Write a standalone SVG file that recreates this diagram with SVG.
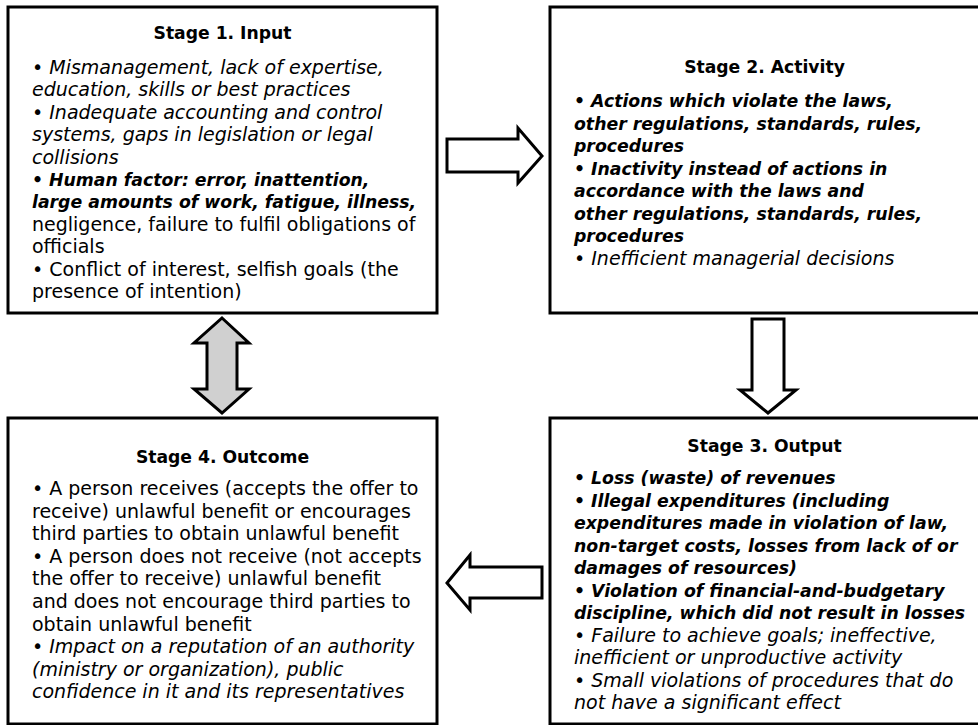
<svg xmlns="http://www.w3.org/2000/svg" width="978" height="725" viewBox="0 0 978 725">
<style>
.box{fill:#fff;stroke:#000;stroke-width:3}
.arr{fill:#fff;stroke:#000;stroke-width:3;stroke-linejoin:miter}
.arr2{fill:#d0d0d0;stroke:#000;stroke-width:3;stroke-linejoin:miter}
text{font-family:"DejaVu Sans",Lato,sans-serif;font-size:19px;fill:#000}
.t{font-weight:bold;text-anchor:middle;font-size:17.2px}
.i{font-style:italic}
.bi{font-style:italic;font-weight:bold;font-size:17.3px}
</style>
<rect width="978" height="725" fill="#fff"/>
<g id="connectors">
<polygon class="arr" points="447,139 518,139 518,128 542,156 518,183 518,172 447,172"/>
<polygon class="arr" points="752,319 784,319 784,390 796,390 768,413 740,390 752,390"/>
<polygon class="arr" points="542,567 542,598 470,598 470,610 447,583 470,555 470,567"/>
<polygon class="arr2" points="222,318 249,343 237,343 237,389 249,389 222,413 194,389 207,389 207,343 194,343"/>
</g>
<g id="stage1">
<rect class="box" x="8" y="7" width="429" height="306"/>
<text class="t" x="222.5" y="39">Stage 1. Input</text>
<text x="32" y="74" class="i">• Mismanagement, lack of expertise,</text>
<text x="32" y="96.4" class="i">education, skills or best practices</text>
<text x="32" y="118.8" class="i">• Inadequate accounting and control</text>
<text x="32" y="141.2" class="i">systems, gaps in legislation or legal</text>
<text x="32" y="163.6" class="i">collisions</text>
<text x="32" y="186" class="bi">• Human factor: error, inattention,</text>
<text x="32" y="208.4" class="bi">large amounts of work, fatigue, illness,</text>
<text x="32" y="230.8">negligence, failure to fulfil obligations of</text>
<text x="32" y="253.2">officials</text>
<text x="32" y="275.6">• Conflict of interest, selfish goals (the</text>
<text x="32" y="298">presence of intention)</text>
</g>
<g id="stage2">
<rect class="box" x="550" y="7" width="430" height="306"/>
<text class="t" x="764.5" y="73">Stage 2. Activity</text>
<text x="574" y="107" class="bi">• Actions which violate the laws,</text>
<text x="574" y="129.5" class="bi">other regulations, standards, rules,</text>
<text x="574" y="152" class="bi">procedures</text>
<text x="574" y="174.5" class="bi">• Inactivity instead of actions in</text>
<text x="574" y="197" class="bi">accordance with the laws and</text>
<text x="574" y="219.5" class="bi">other regulations, standards, rules,</text>
<text x="574" y="242" class="bi">procedures</text>
<text x="574" y="264.5" class="i">• Inefficient managerial decisions</text>
</g>
<g id="stage3">
<rect class="box" x="550" y="418" width="430" height="306"/>
<text class="t" x="764.5" y="452">Stage 3. Output</text>
<text x="574" y="484" class="bi">• Loss (waste) of revenues</text>
<text x="574" y="506.5" class="bi">• Illegal expenditures (including</text>
<text x="574" y="529" class="bi">expenditures made in violation of law,</text>
<text x="574" y="551.5" class="bi">non-target costs, losses from lack of or</text>
<text x="574" y="574" class="bi">damages of resources)</text>
<text x="574" y="596.5" class="bi">• Violation of financial-and-budgetary</text>
<text x="574" y="619" class="bi">discipline, which did not result in losses</text>
<text x="574" y="641.5" class="i">• Failure to achieve goals; ineffective,</text>
<text x="574" y="664" class="i">inefficient or unproductive activity</text>
<text x="574" y="686.5" class="i">• Small violations of procedures that do</text>
<text x="574" y="709" class="i">not have a significant effect</text>
</g>
<g id="stage4">
<rect class="box" x="8" y="418" width="429" height="306"/>
<text class="t" x="222.5" y="463">Stage 4. Outcome</text>
<text x="32" y="495">• A person receives (accepts the offer to</text>
<text x="32" y="517.6">receive) unlawful benefit or encourages</text>
<text x="32" y="540.2">third parties to obtain unlawful benefit</text>
<text x="32" y="562.8">• A person does not receive (not accepts</text>
<text x="32" y="585.4">the offer to receive) unlawful benefit</text>
<text x="32" y="608">and does not encourage third parties to</text>
<text x="32" y="630.6">obtain unlawful benefit</text>
<text x="32" y="653.2" class="i">• Impact on a reputation of an authority</text>
<text x="32" y="675.8" class="i">(ministry or organization), public</text>
<text x="32" y="698.4" class="i">confidence in it and its representatives</text>
</g>
</svg>
